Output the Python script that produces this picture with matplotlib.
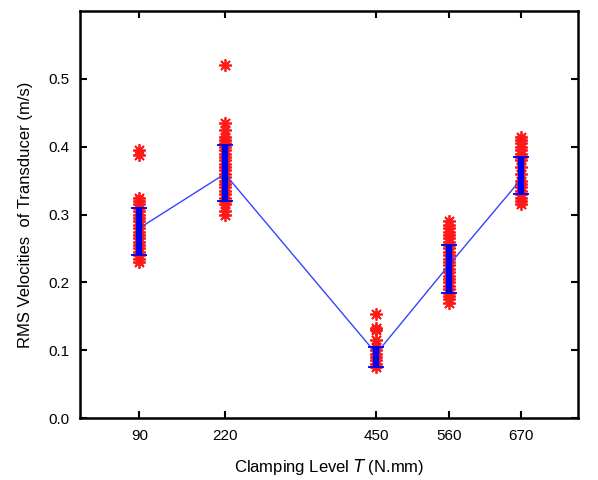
import matplotlib.pyplot as plt

plt.rcParams['font.family'] = ['Liberation Sans', 'DejaVu Sans']

levels = [90, 220, 450, 560, 670]
means = [0.280, 0.360, 0.095, 0.225, 0.352]
err_lo = [0.040, 0.040, 0.020, 0.040, 0.022]
err_hi = [0.030, 0.042, 0.010, 0.030, 0.033]

samples_90 = [0.395, 0.388, 0.325, 0.320, 0.315, 0.310, 0.305, 0.300, 0.295, 0.290,
              0.285, 0.280, 0.275, 0.270, 0.265, 0.260, 0.255, 0.250, 0.245, 0.240,
              0.235, 0.230]
samples_220 = [0.520, 0.435, 0.425, 0.415, 0.410, 0.405, 0.400, 0.395, 0.390, 0.385,
               0.380, 0.375, 0.370, 0.365, 0.360, 0.355, 0.350, 0.345, 0.340, 0.335,
               0.330, 0.325, 0.320, 0.315, 0.305, 0.300]
samples_450 = [0.153, 0.133, 0.130, 0.115, 0.105, 0.100, 0.095, 0.090, 0.085, 0.080,
               0.075]
samples_560 = [0.290, 0.285, 0.280, 0.275, 0.270, 0.265, 0.260, 0.255, 0.250, 0.245,
               0.240, 0.235, 0.230, 0.225, 0.220, 0.215, 0.210, 0.205, 0.200, 0.195,
               0.190, 0.185, 0.180, 0.175, 0.170]
samples_670 = [0.415, 0.410, 0.405, 0.400, 0.395, 0.390, 0.385, 0.380, 0.370, 0.360,
               0.350, 0.345, 0.340, 0.335, 0.330, 0.325, 0.320, 0.315]

samples = [samples_90, samples_220, samples_450, samples_560, samples_670]

fig = plt.figure(figsize=(5.98, 4.8), dpi=100)
ax = fig.add_axes([0.134, 0.129, 0.833, 0.848])

# red asterisks for every measurement
for lv, vals in zip(levels, samples):
    ax.plot([lv] * len(vals), vals, linestyle='none', marker=(8, 2, 0),
            color='#ff1a1a', markersize=9, markeredgewidth=1.3)

# mean line + std error bars
ax.plot(levels, means, color='#3344ff', linewidth=1)
ax.errorbar(levels, means, yerr=[err_lo, err_hi], fmt='none', ecolor='#0000ee',
            elinewidth=4.5, capsize=6, capthick=1.3)

ax.set_xlim(0, 757)
ax.set_ylim(0, 0.6)
ax.set_xticks(levels)
ax.set_yticks([0.0, 0.1, 0.2, 0.3, 0.4, 0.5])
ax.set_yticklabels(['0.0', '0.1', '0.2', '0.3', '0.4', '0.5'])
ax.tick_params(direction='in', top=True, right=True, length=5, width=1.5,
               labelsize=11, pad=8)
for sp in ax.spines.values():
    sp.set_linewidth(1.8)

ax.set_xlabel('Clamping Level $\\it{T}$ (N.mm)', fontsize=12, labelpad=10)
ax.set_ylabel('RMS Velocities  of Transducer (m/s)', fontsize=12, labelpad=11)

plt.savefig('out.png', dpi=100)
